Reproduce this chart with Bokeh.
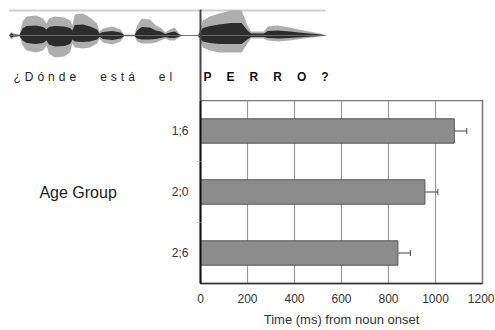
from bokeh.plotting import figure
from bokeh.layouts import column, row
from bokeh.models import (Range1d, FixedTicker, Whisker, TeeHead, ColumnDataSource, Label)
from bokeh.embed import file_html
from bokeh.resources import INLINE

# ---- data ----
age_groups = ["1;6", "2;0", "2;6"]
mean_ms = [1080, 955, 840]
err_ms = [53, 55, 53]
x_ticks = [0, 200, 400, 600, 800, 1000, 1200]

sentence_words = ["¿Dónde", "está", "el"]
noun = "PERRO?"

# waveform envelope (ms relative to noun onset, amplitude)
wave_t = [-815, -805, -795, -770, -757, -740, -700, -670, -655, -645, -620, -580, -555, -545,
          -535, -500, -470, -440, -430, -415, -375, -340, -325, -280, -270, -250, -215, -190,
          -170, -150, -130, -110, -90, -80, -10, 10, 40, 80, 130, 175, 200, 215, 270, 285,
          330, 380, 440, 510, 532]
wave_up = [0, 4, 2, 1, 14, 19, 20, 17, 12, 17, 19, 18, 15, 10,
           21, 22, 18, 12, 4, 7, 9, 6, 1, 1, 10, 17, 16, 10,
           8, 3, 6, 8, 2, 0.5, 0.5, 15, 19, 22, 25, 25, 10, 4, 4, 9,
           10, 8, 5, 2, 0.5]
wave_lo = [0, -4, -2, -1, -10, -15, -17, -15, -10, -18, -22, -21, -17, -8,
           -12, -13, -12, -8, -3, -7, -9, -6, -1, -1, -6, -8, -8, -7,
           -5, -3, -5, -5, -2, -0.5, -0.5, -12, -15, -17, -17, -17, -8, -3, -3, -5,
           -6, -5, -3, -1, -0.5]

FONT = "Liberation Sans"
W = 494

# ---- top panel: waveform + sentence ----
top = figure(width=W, height=100, x_range=Range1d(-851, 1251), y_range=Range1d(-65, 35),
             output_backend="svg", toolbar_location=None,
             x_axis_location=None, y_axis_location=None,
             min_border_left=0, min_border_right=0, min_border_top=0, min_border_bottom=0)
top.grid.visible = False
top.outline_line_color = None

top.line(x=[min(wave_t), max(wave_t)], y=[25, 25], line_color="#d0d0d0", line_width=2)
top.varea(x=wave_t, y1=wave_lo, y2=wave_up, fill_color="#9a9a9a", fill_alpha=0.8)
inner_up = [v * 0.5 for v in wave_up]
inner_lo = [v * 0.5 for v in wave_lo]
top.varea(x=wave_t, y1=inner_lo, y2=inner_up, fill_color="#1e1e1e", fill_alpha=0.9)
top.line(x=[min(wave_t), max(wave_t)], y=[0, 0], line_color="#777777", line_width=0.8)
top.segment(x0=[0], y0=[26], x1=[0], y1=[-65], line_color="#444444", line_width=2)

# letter-spaced sentence (spacing characters only)
sentence_text = "\u2003\u2003".join("\u2004".join(w) for w in sentence_words)

top.add_layout(Label(x=-796, y=-41, text=sentence_text,
                     text_font=FONT, text_font_size="12px", text_color="#222222",
                     text_baseline="middle", text_align="left"))
top.add_layout(Label(x=13, y=-41, text="\u2003\u2005".join(list(noun)),
                     text_font=FONT, text_font_size="12px", text_font_style="bold",
                     text_color="#111111", text_baseline="middle", text_align="left"))

# ---- bottom panel: bar chart ----
n = len(age_groups)
ypos = [n - i - 0.5 for i in range(n)]
src = ColumnDataSource(dict(y=ypos, right=mean_ms,
                            lo=[m - e for m, e in zip(mean_ms, err_ms)],
                            hi=[m + e for m, e in zip(mean_ms, err_ms)]))

p = figure(width=W, height=229, x_range=Range1d(0, 1200), y_range=Range1d(0, n),
           output_backend="svg", toolbar_location=None,
           min_border_left=200, min_border_right=12, min_border_top=0, min_border_bottom=44)

p.hbar(y="y", right="right", left=0, height=0.4, source=src,
       fill_color="#8c8c8c", line_color="#555555", line_width=1)
p.add_layout(Whisker(source=src, base="y", lower="lo", upper="hi", dimension="width",
                     line_color="#444444", line_width=1,
                     upper_head=TeeHead(size=6, line_color="#444444", line_width=1),
                     lower_head=TeeHead(size=6, line_color="#444444", line_width=1)))

p.outline_line_color = "#777777"
p.outline_line_width = 1.5
p.ygrid.visible = False
p.xgrid.grid_line_color = "#9a9a9a"
p.xgrid.grid_line_width = 1.2
p.xgrid.grid_line_alpha = 1.0

xa = p.xaxis[0]
xa.ticker = FixedTicker(ticks=x_ticks)
xa.major_tick_out = 0
xa.major_tick_in = 0
xa.minor_tick_line_color = None
xa.axis_line_color = "#333333"
xa.axis_line_width = 1.5
xa.major_label_text_font = FONT
xa.major_label_text_font_size = "12px"
xa.major_label_text_color = "#333333"
xa.major_label_standoff = 10
xa.axis_label = "Time (ms) from noun onset"
xa.axis_label_text_font = FONT
xa.axis_label_text_font_size = "13px"
xa.axis_label_text_font_style = "normal"
xa.axis_label_text_color = "#333333"
xa.axis_label_standoff = 6

ya = p.yaxis[0]
ya.ticker = FixedTicker(ticks=ypos, minor_ticks=[float(i) for i in range(1, n)])
ya.major_label_overrides = {y: a for y, a in zip(ypos, age_groups)}
ya.major_tick_line_color = None
ya.minor_tick_line_color = "#aaaaaa"
ya.minor_tick_out = 3
ya.minor_tick_in = 0
ya.axis_line_color = "#111111"
ya.axis_line_width = 2
ya.major_label_text_font = FONT
ya.major_label_text_font_size = "12px"
ya.major_label_text_color = "#333333"
ya.major_label_standoff = 6
ya.axis_label = "Age Group"
ya.axis_label_orientation = "horizontal"
ya.axis_label_text_font = FONT
ya.axis_label_text_font_size = "16px"
ya.axis_label_text_font_style = "normal"
ya.axis_label_text_color = "#222222"
ya.axis_label_standoff = 52

layout = column(row(top), row(p), spacing=0)
open("out.html", "w").write(file_html(layout, INLINE))
